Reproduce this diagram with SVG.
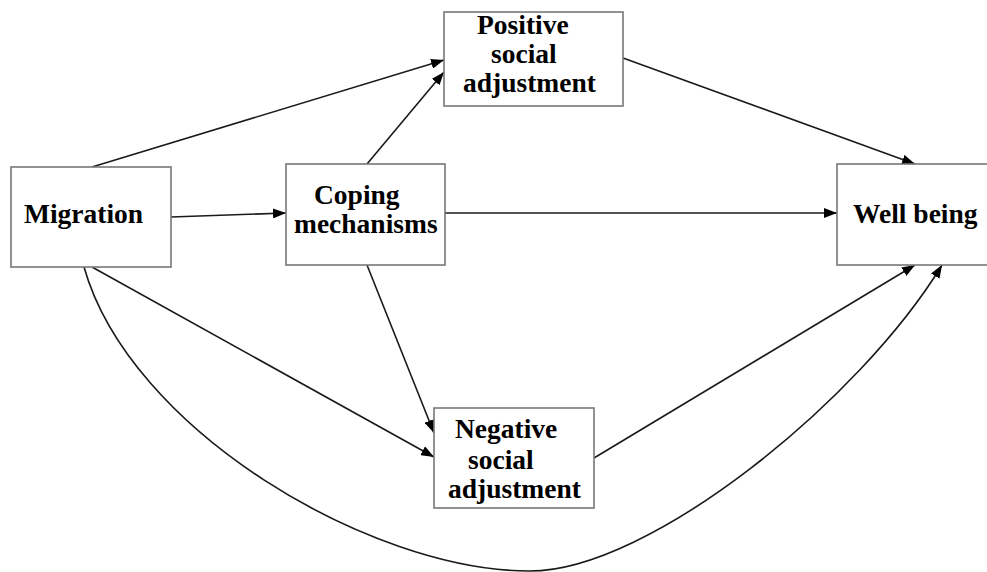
<svg xmlns="http://www.w3.org/2000/svg" width="987" height="572" viewBox="0 0 987 572">
<style>
.box{fill:#fff;stroke:#777;stroke-width:1.6}
.lbl{font-family:"Liberation Serif","Times New Roman",serif;font-weight:bold;font-size:27.5px;fill:#000}
.edge{fill:none;stroke:#1a1a1a;stroke-width:1.6;marker-end:url(#ah)}
</style>
<defs>
<marker id="ah" viewBox="0 0 13 10" refX="13" refY="5" markerWidth="13" markerHeight="10" markerUnits="userSpaceOnUse" orient="auto">
<path d="M0,0 L13,5 L0,10 Z" fill="#000"/>
</marker>
</defs>
<rect width="987" height="572" fill="#fff"/>
<g id="connectors">
<path class="edge" d="M92,167 L444,60"/>
<path class="edge" d="M367,164 L444,72"/>
<path class="edge" d="M171,217 L286,213"/>
<path class="edge" d="M445,213 L837,213"/>
<path class="edge" d="M623,58 L915,164"/>
<path class="edge" d="M92,267 L434,457"/>
<path class="edge" d="M367,265 L434,433"/>
<path class="edge" d="M594,458 L915,265"/>
<path class="edge" d="M84,267 C130,430 370,571 530,571 C650,571 860,400 942,265"/>
</g>
<g id="migration">
<rect class="box" x="11" y="167" width="160" height="100"/>
<text class="lbl" x="24" y="223">Migration</text>
</g>
<g id="coping">
<rect class="box" x="286" y="164" width="159" height="101"/>
<text class="lbl" x="314" y="204">Coping</text>
<text class="lbl" x="294" y="233">mechanisms</text>
</g>
<g id="positive">
<rect class="box" x="444" y="12" width="179" height="94"/>
<text class="lbl" x="477" y="34">Positive</text>
<text class="lbl" x="491" y="63">social</text>
<text class="lbl" x="463" y="92">adjustment</text>
</g>
<g id="negative">
<rect class="box" x="434" y="408" width="160" height="100"/>
<text class="lbl" x="455" y="438">Negative</text>
<text class="lbl" x="468" y="469">social</text>
<text class="lbl" x="448" y="498">adjustment</text>
</g>
<g id="wellbeing">
<rect class="box" x="837" y="164" width="160" height="101"/>
<text class="lbl" x="853" y="223">Well being</text>
</g>
</svg>
